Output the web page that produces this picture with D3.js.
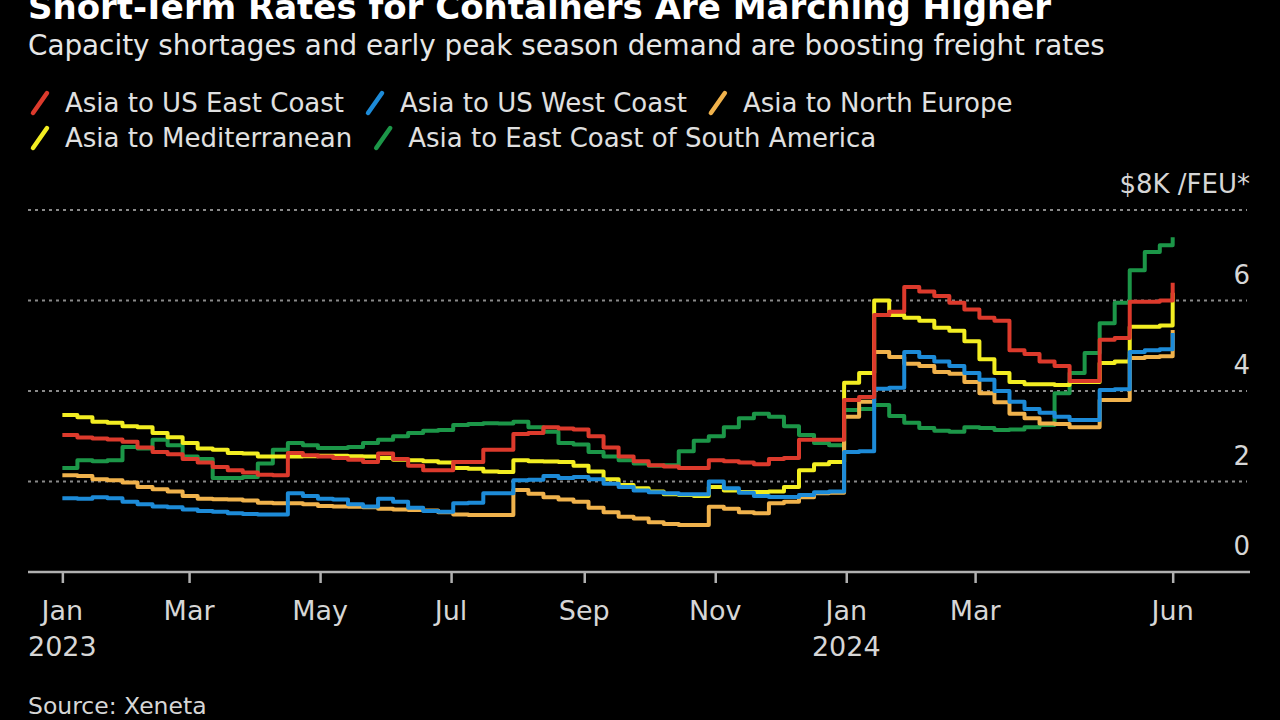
<!DOCTYPE html>
<html><head><meta charset="utf-8">
<script src="https://cdn.jsdelivr.net/npm/d3@7"></script>
<style>html,body{margin:0;padding:0;background:#000;} svg{display:block;}</style>
</head><body>
<svg id="chart" width="1280" height="720"></svg>
<script>
// ---- data ----
const titleText = "Short-Term Rates for Containers Are Marching Higher";
const subtitleText = "Capacity shortages and early peak season demand are boosting freight rates";
const sourceText = "Source: Xeneta";

const seriesNames = ["Asia to US East Coast", "Asia to US West Coast", "Asia to North Europe",
                     "Asia to Mediterranean", "Asia to East Coast of South America"];
const seriesColors = ["#dc3a2c", "#1d8bd8", "#f0b24c", "#f3ee22", "#1c9648"];

// weekly observations, first week 2023-01-01, last observation 2024-06-01
const firstDate = "2023-01-01";
const lastDate = "2024-06-01";

const eastCoast = [
  3.03,2.97,2.95,2.93,2.88,2.75,2.65,2.6,2.5,2.42,
  2.32,2.25,2.2,2.15,2.14,2.63,2.58,2.55,2.52,2.48,
  2.43,2.62,2.5,2.35,2.25,2.25,2.43,2.43,2.7,2.7,
  3.05,3.07,3.2,3.17,3.15,3.0,2.75,2.55,2.45,2.36,
  2.33,2.3,2.3,2.47,2.45,2.42,2.38,2.5,2.52,2.92,
  2.92,2.92,3.8,3.87,5.68,5.75,6.3,6.2,6.1,5.95,
  5.8,5.62,5.55,4.9,4.82,4.65,4.55,4.22,4.22,5.13,
  5.17,5.97,5.97,6.0,6.39];
const westCoast = [
  1.63,1.62,1.65,1.63,1.55,1.5,1.45,1.43,1.38,1.35,
  1.33,1.3,1.28,1.27,1.27,1.74,1.68,1.62,1.6,1.5,
  1.45,1.62,1.55,1.42,1.35,1.33,1.52,1.53,1.74,1.74,
  2.03,2.04,2.12,2.08,2.1,2.05,1.95,1.88,1.8,1.76,
  1.74,1.72,1.72,2.0,1.85,1.75,1.68,1.66,1.66,1.7,
  1.76,1.78,2.65,2.67,4.05,4.07,4.86,4.75,4.65,4.55,
  4.4,4.25,4.0,3.76,3.6,3.52,3.43,3.36,3.36,4.02,
  4.04,4.86,4.9,4.92,5.28];
const northEurope = [
  2.14,2.12,2.05,2.03,1.98,1.88,1.83,1.78,1.68,1.62,
  1.61,1.6,1.58,1.53,1.52,1.52,1.5,1.46,1.45,1.44,
  1.43,1.4,1.38,1.37,1.36,1.32,1.27,1.26,1.26,1.26,
  1.81,1.73,1.65,1.6,1.55,1.42,1.32,1.22,1.18,1.1,
  1.06,1.04,1.04,1.44,1.4,1.32,1.3,1.52,1.55,1.65,
  1.74,1.75,3.43,3.76,4.86,4.75,4.6,4.55,4.42,4.38,
  4.2,3.95,3.75,3.5,3.4,3.28,3.27,3.2,3.2,3.8,
  3.8,4.73,4.75,4.77,5.35];
const mediterranean = [
  3.47,3.42,3.32,3.3,3.22,3.2,3.07,2.98,2.85,2.73,
  2.7,2.63,2.62,2.55,2.55,2.55,2.56,2.57,2.57,2.56,
  2.55,2.52,2.48,2.47,2.45,2.42,2.3,2.28,2.22,2.21,
  2.47,2.45,2.44,2.43,2.35,2.22,2.05,1.92,1.85,1.78,
  1.72,1.7,1.68,1.88,1.8,1.77,1.77,1.78,1.88,2.25,
  2.38,2.43,4.18,4.4,6.0,5.68,5.62,5.55,5.4,5.33,
  5.1,4.7,4.4,4.2,4.15,4.15,4.13,4.2,4.2,4.62,
  4.65,5.42,5.42,5.45,6.17];
const southAmerica = [
  2.3,2.47,2.45,2.47,2.76,2.73,2.92,2.8,2.55,2.5,
  2.08,2.08,2.1,2.4,2.7,2.85,2.8,2.74,2.74,2.76,
  2.85,2.92,3.0,3.07,3.12,3.14,3.25,3.27,3.29,3.28,
  3.32,3.2,3.1,2.85,2.82,2.65,2.55,2.47,2.4,2.35,
  2.36,2.67,2.9,3.0,3.2,3.4,3.5,3.43,3.22,3.03,
  2.85,2.8,3.58,3.6,3.69,3.45,3.3,3.18,3.12,3.1,
  3.2,3.18,3.14,3.15,3.2,3.25,3.95,4.4,4.84,5.5,
  5.95,6.67,7.07,7.22,7.4];

const tickDates = ["2023-01-01","2023-03-01","2023-05-01","2023-07-01","2023-09-01",
                   "2023-11-01","2024-01-01","2024-03-01","2024-06-01"];
const tickLabels = ["Jan","Mar","May","Jul","Sep","Nov","Jan","Mar","Jun"];
const yearLabels = ["2023","","","","","","2024","",""];
const yTicks = [0, 2, 4, 6, 8];
const yTickLabels = ["0", "2", "4", "6", "$8K /FEU*"];

// ---- drawing ----
const parse = d3.timeParse("%Y-%m-%d");
const start = parse(firstDate), end = parse(lastDate);
const allSeries = [eastCoast, westCoast, northEurope, mediterranean, southAmerica];
const dates = eastCoast.map((_, i) => {
  const d = d3.timeDay.offset(start, 7 * i);
  return d > end ? end : d;
});

const svg = d3.select("#chart");
const FONT = "DejaVu Sans, sans-serif";
svg.append("rect").attr("width", 1280).attr("height", 720).attr("fill", "#000");

const x = d3.scaleTime().domain([new Date(2022, 11, 16), new Date(2024, 6, 7)]).range([28, 1250]);
const y = d3.scaleLinear().domain([0, 8]).range([572, 210]);

// title / subtitle
svg.append("text").attr("x", 28).attr("y", 19).attr("fill", "#fff")
  .attr("font-family", FONT).attr("font-weight", "bold").attr("font-size", 34).text(titleText);
svg.append("text").attr("x", 28).attr("y", 55).attr("fill", "#e6e6e6")
  .attr("font-family", FONT).attr("font-size", 27.8).text(subtitleText);

// legend
const legendRows = [[0, 1, 2], [3, 4]];
const rowY = [112, 147];
legendRows.forEach((row, r) => {
  let cx = 30;
  row.forEach(idx => {
    const g = svg.append("g");
    g.append("line").attr("x1", cx + 3).attr("y1", rowY[r] + 1).attr("x2", cx + 17).attr("y2", rowY[r] - 19)
      .attr("stroke", seriesColors[idx]).attr("stroke-width", 4.5).attr("stroke-linecap", "round");
    const t = g.append("text").attr("x", cx + 35).attr("y", rowY[r]).attr("fill", "#e0e0e0")
      .attr("font-family", FONT).attr("font-size", 26).text(seriesNames[idx]);
    cx = cx + 35 + t.node().getComputedTextLength() + 21;
  });
});

// gridlines
svg.append("g").selectAll("line").data(yTicks.filter(v => v > 0)).join("line")
  .attr("x1", 28).attr("x2", 1247).attr("y1", d => y(d)).attr("y2", d => y(d))
  .attr("stroke", "#8a8a8a").attr("stroke-width", 2).attr("stroke-dasharray", "3,4");

// y labels
svg.append("g").selectAll("text").data(yTicks).join("text")
  .attr("x", 1250).attr("y", d => y(d) - 17).attr("text-anchor", "end")
  .attr("fill", "#d6d6d6").attr("font-family", FONT).attr("font-size", 26)
  .text((d, i) => yTickLabels[i]);

// x axis
const xAxis = d3.axisBottom(x).tickValues(tickDates.map(parse)).tickSize(11).tickFormat("");
const ax = svg.append("g").attr("transform", "translate(0,572)").call(xAxis);
ax.select(".domain").attr("stroke", "#b0b0b0").attr("stroke-width", 2.5).attr("d", "M28,0H1250");
ax.selectAll(".tick line").attr("stroke", "#b0b0b0").attr("stroke-width", 2.5);
const tickG = svg.append("g");
tickDates.forEach((d, i) => {
  tickG.append("text").attr("x", x(parse(d))).attr("y", 620).attr("text-anchor", "middle")
    .attr("fill", "#d6d6d6").attr("font-family", FONT).attr("font-size", 27).text(tickLabels[i]);
  if (yearLabels[i]) {
    tickG.append("text").attr("x", x(parse(d))).attr("y", 656).attr("text-anchor", "middle")
      .attr("fill", "#d6d6d6").attr("font-family", FONT).attr("font-size", 27).text(yearLabels[i]);
  }
});

// lines (drawn with red on top)
const line = d3.line().curve(d3.curveStepAfter).x((d, i) => x(dates[i])).y(d => y(d));
const drawOrder = [4, 3, 2, 1, 0];
svg.append("g").selectAll("path").data(drawOrder).join("path")
  .attr("d", idx => line(allSeries[idx]))
  .attr("fill", "none").attr("stroke", idx => seriesColors[idx])
  .attr("stroke-width", 4).attr("stroke-linejoin", "round");

// source
svg.append("text").attr("x", 28).attr("y", 714).attr("fill", "#d6d6d6")
  .attr("font-family", FONT).attr("font-size", 23.5).text(sourceText);
</script>
</body></html>
